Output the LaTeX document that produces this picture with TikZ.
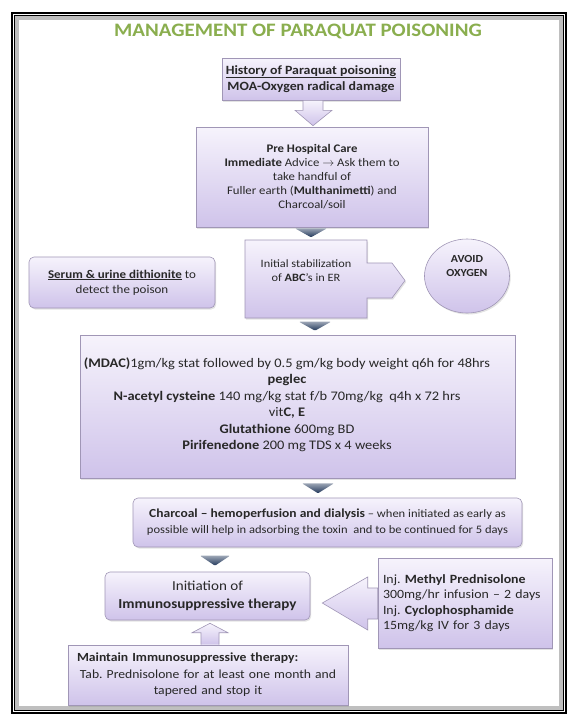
\documentclass[tikz,border=0pt]{standalone}
\usepackage{fontspec}
\setmainfont{Carlito}[FakeStretch=1.1]
\frenchspacing
\usetikzlibrary{shapes.geometric,shadows,calc}
\definecolor{lavtop}{RGB}{246,243,252}
\definecolor{lavbot}{RGB}{207,195,234}
\definecolor{lavedge}{RGB}{160,150,182}
\definecolor{navy}{RGB}{33,55,90}
\definecolor{titlegreen}{RGB}{138,174,78}
\definecolor{txt}{RGB}{40,40,40}
\begin{document}
\begin{tikzpicture}[x=1pt,y=-1pt,
  box/.style={draw=lavedge, line width=0.6pt, top color=lavtop, bottom color=lavbot,
    drop shadow={opacity=0.22, shadow xshift=1.2pt, shadow yshift=-1.5pt},
    inner sep=2pt, text=txt, align=center},
  rbox/.style={box, rounded corners=5pt},
  navytri/.style={top color=navy!45, bottom color=navy, draw=none, rounded corners=1pt},
  barrow/.style={draw=lavedge, line width=0.6pt, top color=lavtop, bottom color=lavbot},
  lbl/.style={text=txt, align=center, inner sep=0pt}
]
\useasboundingbox (0,0) rectangle (576,716);
\fill[white] (0,0) rectangle (576,716);
% frame
\draw[black!25, line width=4pt] (17,18) rectangle (561,708);
\draw[black, line width=1.1pt] (12,13) rectangle (566,713);
\draw[black, line width=0.7pt] (14.8,15.8) rectangle (563.2,710.2);

% title
\node[font=\fontsize{19}{21}\selectfont\bfseries, text=titlegreen] (title) at (298,31) {MANAGEMENT OF PARAQUAT POISONING};

% box 1
\node[box, minimum width=178, minimum height=42, font=\fontsize{12.6}{16.5}\selectfont\bfseries] (b1) at (311,79)
  {\underline{History of Paraquat poisoning}\\MOA-Oxygen radical damage};
% box 2
\node[box, minimum width=232, minimum height=100, font=\fontsize{11.6}{14}\selectfont] (b2) at (312,177)
  {\textbf{Pre Hospital Care}\\\textbf{Immediate} Advice $\rightarrow$ Ask them to\\take handful of\\Fuller earth (\textbf{Multhanimetti}) and\\Charcoal/soil};

% block arrow b1 -> b2
\path[barrow] ($(b1.south)+(-8,0)$) -- ($(b1.south)+(12,0)$) -- ($(b1.south)+(12,10)$) -- ($(b1.south)+(21,10)$)
  -- ($(b2.north)+(1,-1)$) -- ($(b1.south)+(-16,10)$) -- ($(b1.south)+(-8,10)$) -- cycle;

% box 3 with callout
\path[box] (245,240) -- (367,240) -- (367,263) -- (392,263) -- (405,280.5) -- (392,298) -- (367,298) -- (367,318) -- (245,318) -- cycle;
\node[lbl, font=\fontsize{11.2}{14}\selectfont] (b3) at (306,271) {Initial stabilization\\of \textbf{ABC}'s in ER};

% ellipse
\node[box, ellipse, minimum width=85, minimum height=74] (ox) at (467,276) {};
\node[lbl, font=\fontsize{10.8}{14}\selectfont\bfseries] (oxt) at (467,266) {AVOID\\OXYGEN};

% serum box
\node[rbox, minimum width=186, minimum height=51, font=\fontsize{11.8}{15}\selectfont] (se) at (122,282.5)
  {\underline{\textbf{Serum \& urine dithionite}} to\\detect the poison};

% box 4
\node[box, minimum width=435, minimum height=143] (b4) at (297.5,406.5) {};
\node[lbl, font=\fontsize{13.1}{16.5}\selectfont] (b4t) at (287,405)
  {\textbf{(MDAC)}1gm/kg stat followed by 0.5 gm/kg body weight q6h for 48hrs\\
   \textbf{peglec}\\
   \textbf{N-acetyl cysteine} 140 mg/kg stat f/b 70mg/kg\ \ q4h x 72 hrs\\
   vit\textbf{C, E}\\
   \textbf{Glutathione} 600mg BD\\
   \textbf{Pirifenedone} 200 mg TDS x 4 weeks};

% box 5
\node[rbox, minimum width=389, minimum height=49, font=\fontsize{11.4}{16}\selectfont] (b5) at (327.5,522.5)
  {{\fontsize{12.3}{16}\selectfont\textbf{Charcoal – hemoperfusion and dialysis}} – when initiated as early as\\
   possible will help in adsorbing the toxin\ \ and to be continued for 5 days};

% box 6
\node[rbox, minimum width=205, minimum height=48, font=\fontsize{13.7}{18}\selectfont] (b6) at (207.5,596)
  {Initiation of\\\textbf{Immunosuppressive therapy}};

% box 7
\node[box, minimum width=280, minimum height=60, text width=270, font=\fontsize{12.4}{16.5}\selectfont] (b7) at (208,675)
  {\makebox[\linewidth][l]{\hspace{4pt}\textbf{Maintain Immunosuppressive therapy:}}\\
   Tab. Prednisolone for at least one month and\\tapered and stop it};

% box 8
\node[box, minimum width=174, minimum height=90, text width=164, inner xsep=5pt, align=left, font=\fontsize{12.6}{15.5}\selectfont] (b8) at (465,603)
  {Inj. \textbf{Methyl Prednisolone}\\300mg/hr infusion – 2 days\\Inj. \textbf{Cyclophosphamide}\\15mg/kg IV for 3 days};

% navy down markers
\path[navytri] ($(b2.south)+(-17,1)$) -- ($(b2.south)+(15,1)$) -- ($(b2.south)+(-1,10)$) -- cycle;
\path[navytri] ($(b4.north)+(1.5,-13)$) -- ($(b4.north)+(33.5,-13)$) -- ($(b4.north)+(17.5,-4)$) -- cycle;
\path[navytri] ($(b4.south)+(4.5,5)$) -- ($(b4.south)+(36.5,5)$) -- ($(b4.south)+(20.5,15)$) -- cycle;
\path[navytri] ($(b6.north)+(-7.5,-16)$) -- ($(b6.north)+(22.5,-16)$) -- ($(b6.north)+(7.5,-6)$) -- cycle;

% block arrow b8 -> b6 (left)
\path[barrow] ($(b8.west)+(0,-15)$) -- ($(b8.west)+(-10,-15)$) -- ($(b8.west)+(-10,-26)$) -- ($(b6.east)+(12,7)$)
  -- ($(b8.west)+(-10,27)$) -- ($(b8.west)+(-10,16)$) -- ($(b8.west)+(0,16)$) -- cycle;

% block arrow b7 -> b6 (up)
\path[barrow] ($(b7.north)+(-7,0)$) -- ($(b7.north)+(-7,-12)$) -- ($(b7.north)+(-16,-12)$) -- ($(b6.south)+(2.5,3)$)
  -- ($(b7.north)+(20,-12)$) -- ($(b7.north)+(11,-12)$) -- ($(b7.north)+(11,0)$);
\end{tikzpicture}
\end{document}
